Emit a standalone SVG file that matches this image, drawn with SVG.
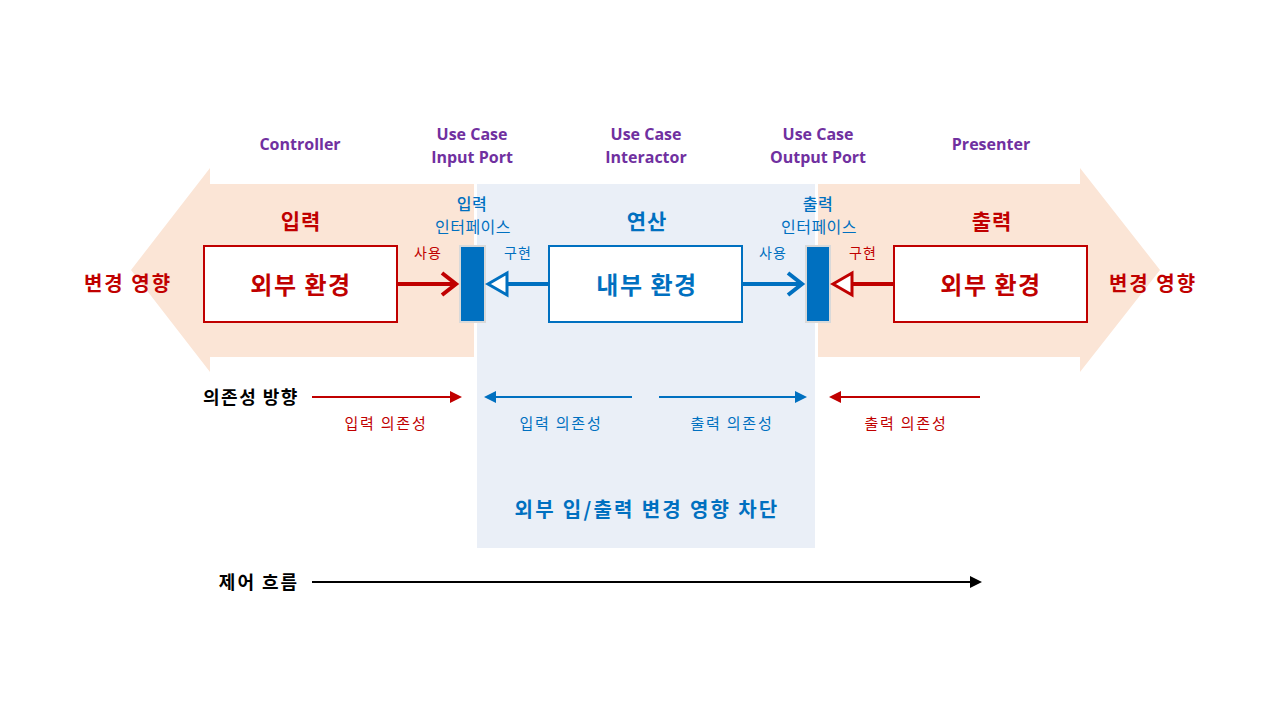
<svg xmlns="http://www.w3.org/2000/svg" width="1280" height="720" viewBox="0 0 1280 720">
<defs>
<style>
text{font-family:"Noto Sans CJK KR","Open Sans",sans-serif;text-anchor:middle;dominant-baseline:central}
.lat{font-family:"Open Sans","Noto Sans CJK KR",sans-serif;font-weight:700;font-size:16px;fill:#7030A0}
.red{fill:#C00000}.blue{fill:#0070C0}.blk{fill:#000}
.b{font-weight:700}
.box{fill:#fff;stroke-width:2}
.port{fill:#0070C0;stroke:#D9D9D9;stroke-width:2}
.big{font-size:24px;font-weight:700;letter-spacing:1.5px}
.hd{font-size:21px;font-weight:700;letter-spacing:1px}
.pt{font-size:16px;letter-spacing:0.5px}
.sm{font-size:14px;letter-spacing:1px}
.dep{font-size:15px;letter-spacing:1.8px}
</style>
<marker id="mr" markerWidth="6" markerHeight="6" refX="5" refY="3" orient="auto" markerUnits="strokeWidth"><path d="M0,0 L6,3 L0,6 z" fill="#C00000"/></marker>
<marker id="mb" markerWidth="6" markerHeight="6" refX="5" refY="3" orient="auto" markerUnits="strokeWidth"><path d="M0,0 L6,3 L0,6 z" fill="#0070C0"/></marker>
<marker id="mk" markerWidth="6" markerHeight="6" refX="5" refY="3" orient="auto" markerUnits="strokeWidth"><path d="M0,0 L6,3 L0,6 z" fill="#000"/></marker>
</defs>
<rect width="1280" height="720" fill="#fff"/>
<g id="background">
<polygon points="474,184 210,184 210,168 131,270 210,372 210,357 474,357" fill="#FBE5D6"/>
<polygon points="818,184 1080,184 1080,168 1160,270 1080,372 1080,357 818,357" fill="#FBE5D6"/>
<rect x="477" y="184" width="338" height="364" fill="#EAEFF7"/>
</g>
<g id="labels">
<text class="lat" x="300" y="144">Controller</text>
<text class="lat" x="472" y="134">Use Case</text>
<text class="lat" x="472" y="157">Input Port</text>
<text class="lat" x="646" y="134">Use Case</text>
<text class="lat" x="646" y="157">Interactor</text>
<text class="lat" x="818" y="134">Use Case</text>
<text class="lat" x="818" y="157">Output Port</text>
<text class="lat" x="991" y="144">Presenter</text>
<text class="red hd" x="301" y="220">입력</text>
<text class="blue hd" x="647" y="220">연산</text>
<text class="red hd" x="992" y="220">출력</text>
<text class="red b" x="128" y="282" font-size="20" letter-spacing="2">변경 영향</text>
<text class="red b" x="1153" y="282" font-size="20" letter-spacing="2">변경 영향</text>
</g>
<g id="node-input-port">
<rect class="port" x="460" y="246" width="25" height="76"/>
<text class="blue pt" x="472" y="203" font-weight="500">입력</text>
<text class="blue pt" x="473" y="226" letter-spacing="1.5">인터페이스</text>
</g>
<g id="node-output-port">
<rect class="port" x="806" y="246" width="24" height="76"/>
<text class="blue pt" x="818" y="203" font-weight="500">출력</text>
<text class="blue pt" x="819" y="226" letter-spacing="1.5">인터페이스</text>
</g>
<g id="node-controller">
<rect class="box" x="204" y="246" width="193" height="76" stroke="#C00000"/>
<text class="red big" x="301" y="283">외부 환경</text>
</g>
<g id="node-interactor">
<rect class="box" x="549" y="246" width="193" height="76" stroke="#0070C0"/>
<text class="blue big" x="647" y="283">내부 환경</text>
</g>
<g id="node-presenter">
<rect class="box" x="894" y="246" width="193" height="76" stroke="#C00000"/>
<text class="red big" x="991" y="283">외부 환경</text>
</g>
<g id="connectors">
<line x1="397" y1="284" x2="455" y2="284" stroke="#C00000" stroke-width="4"/>
<polyline points="442,273 456,284 442,295" fill="none" stroke="#C00000" stroke-width="4"/>
<line x1="549" y1="284" x2="507" y2="284" stroke="#0070C0" stroke-width="4"/>
<polygon points="488,284 507,273 507,295" fill="#fff" stroke="#0070C0" stroke-width="3"/>
<line x1="742" y1="284" x2="801" y2="284" stroke="#0070C0" stroke-width="4"/>
<polyline points="788,273 802,284 788,295" fill="none" stroke="#0070C0" stroke-width="4"/>
<line x1="894" y1="284" x2="852" y2="284" stroke="#C00000" stroke-width="4"/>
<polygon points="833,284 852,273 852,295" fill="#fff" stroke="#C00000" stroke-width="3"/>
<text class="red sm" x="428" y="252">사용</text>
<text class="blue sm" x="518" y="252">구현</text>
<text class="blue sm" x="773" y="252">사용</text>
<text class="red sm" x="863" y="252">구현</text>
<line x1="312" y1="397" x2="460" y2="397" stroke="#C00000" stroke-width="2" marker-end="url(#mr)"/>
<line x1="632" y1="397" x2="486" y2="397" stroke="#0070C0" stroke-width="2" marker-end="url(#mb)"/>
<line x1="659" y1="397" x2="805" y2="397" stroke="#0070C0" stroke-width="2" marker-end="url(#mb)"/>
<line x1="980" y1="397" x2="831" y2="397" stroke="#C00000" stroke-width="2" marker-end="url(#mr)"/>
<line x1="312" y1="582" x2="980" y2="582" stroke="#000" stroke-width="2" marker-end="url(#mk)"/>
</g>
<g id="legend">
<text class="blk b" x="251" y="396" font-size="18" letter-spacing="1.5">의존성 방향</text>
<text class="red dep" x="386" y="422">입력 의존성</text>
<text class="blue dep" x="561" y="422">입력 의존성</text>
<text class="blue dep" x="732" y="422">출력 의존성</text>
<text class="red dep" x="906" y="422">출력 의존성</text>
<text class="blue b" x="647" y="508" font-size="20" letter-spacing="2.3">외부 입/출력 변경 영향 차단</text>
<text class="blk b" x="259" y="581" font-size="18" letter-spacing="2">제어 흐름</text>
</g>
</svg>
